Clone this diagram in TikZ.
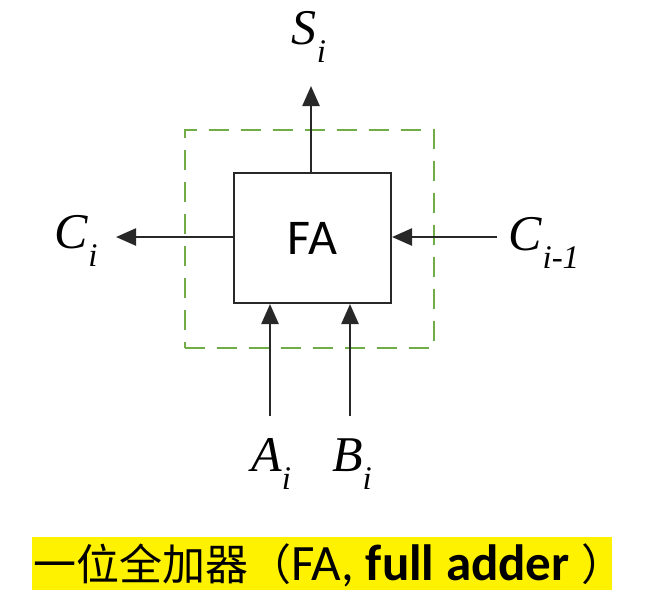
\documentclass[tikz,border=0pt]{standalone}
\usepackage{fontspec}
\setmainfont{Liberation Serif}
\newfontfamily\cjk{Noto Sans CJK SC}
\newfontfamily\calib{Carlito}
\usetikzlibrary{arrows.meta}
\definecolor{dashgreen}{RGB}{112,173,71}
\definecolor{linegray}{RGB}{40,40,40}
\newcommand\lbl[2]{\textit{#1}\raisebox{-0.35em}{\fontsize{33}{36}\selectfont\textit{#2}}}
\tikzset{
  sig/.style={draw=linegray, line width=2.4pt, -{Triangle[length=20pt,width=17pt]}},
  lab/.style={font=\fontsize{50}{54}\selectfont, inner sep=0pt},
}
\begin{document}
\begin{tikzpicture}[x=1pt,y=-1pt]
\useasboundingbox (0,0) rectangle (669,611);
\fill[white] (0,0) rectangle (669,611);
% dashed boundary
\node (dash) [draw=dashgreen, dash pattern=on 20pt off 12pt, line width=2.8pt,
  minimum width=249pt, minimum height=218pt, inner sep=0pt] at (309.5,239) {};
% FA box
\node (fa) [draw=linegray, fill=white, line width=2pt, minimum width=157pt, minimum height=130pt,
  inner sep=0pt, font=\calib\fontsize{50}{54}\selectfont] at (312.5,238) {FA};
% coordinates
\coordinate (stip) at (311,86);
\coordinate (citip) at (116,237);
\coordinate (cinstart) at (497,237);
\coordinate (astart) at (270,416);
\coordinate (bstart) at (350,416);
% arrows
\draw[sig] (fa.north -| stip) -- (stip);
\draw[sig] (fa.west |- citip) -- (citip);
\draw[sig] (cinstart) -- (fa.east |- cinstart);
\draw[sig] (astart) -- (fa.south -| astart);
\draw[sig] (bstart) -- (fa.south -| bstart);
% labels
\node (si) [lab] at (309,37) {\lbl{S}{i}};
\node (ci) [lab] at (76,241) {\lbl{C}{i}};
\node (cin) [lab] at (544,243) {\lbl{C}{i-1}};
\node (ai) [lab] at (271,464) {\lbl{A}{i}};
\node (bi) [lab] at (352,464) {\lbl{B}{i}};
% caption
\node (bar) [fill=yellow, minimum width=580pt, minimum height=53pt, inner sep=0pt] at (322,563.5) {};
\node (cap) [anchor=west, inner sep=0pt] at (33,565)
  {{\cjk\fontsize{43}{48}\selectfont 一位全加器（}{\calib\fontsize{51}{56}\selectfont FA, \textbf{full adder} }{\cjk\fontsize{43}{48}\selectfont）}};
\end{tikzpicture}
\end{document}
